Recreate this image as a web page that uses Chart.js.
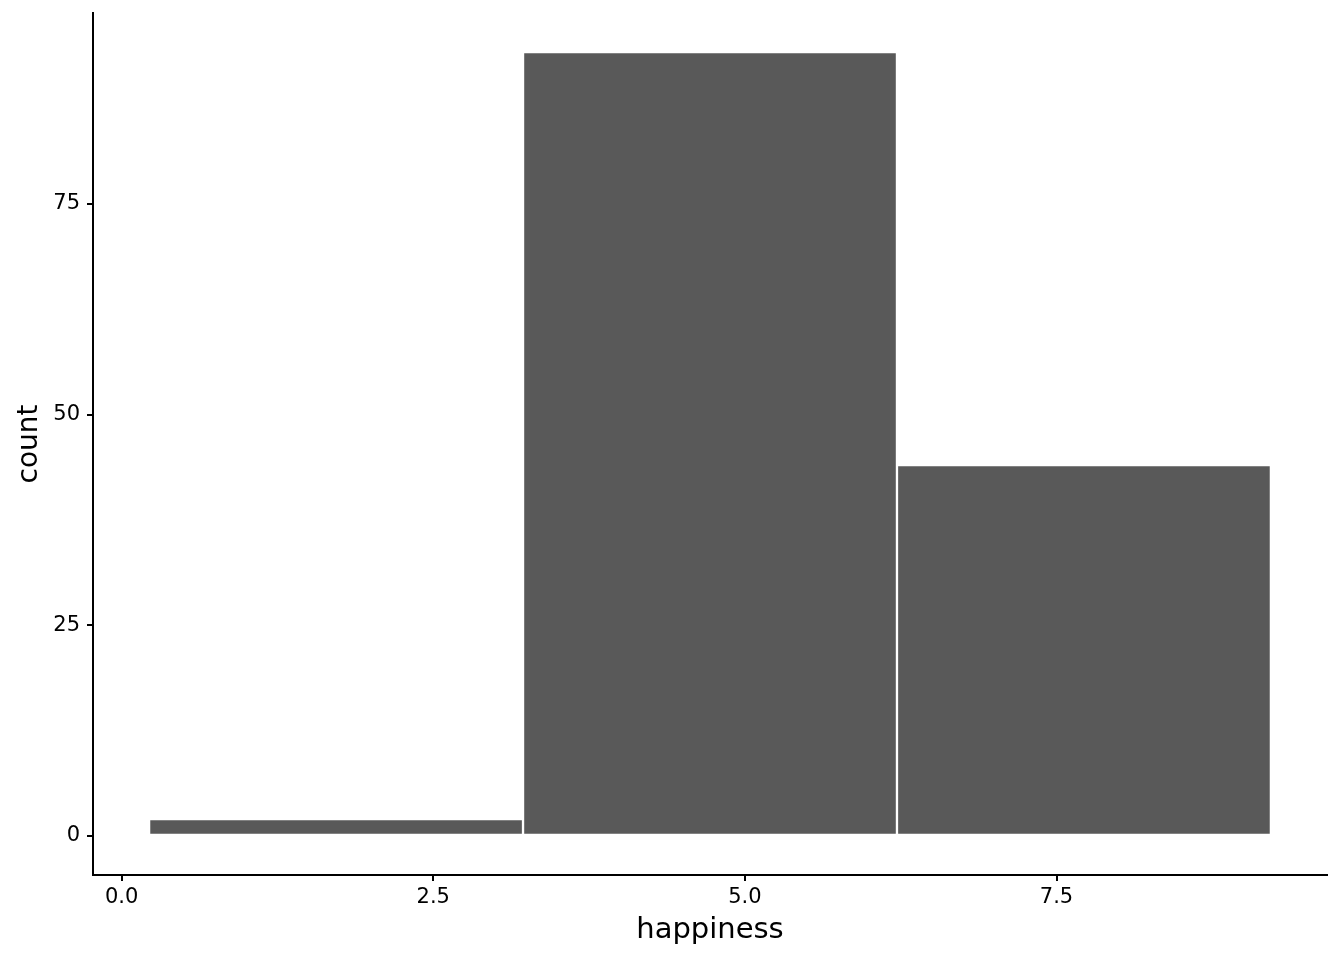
<!DOCTYPE html>
<html>
<head>
<meta charset="utf-8">
<script src="https://cdn.jsdelivr.net/npm/chart.js@4"></script>
<style>
	html, body { margin: 0; padding: 0; background: #fff; }
	#wrap { width: 1344px; height: 960px; }
</style>
</head>
<body>
<div id="wrap"><canvas id="canvas0" width="1344" height="960"></canvas></div>
<script>
// Histogram bins (centres) and counts
var binCenters = [1.72, 4.72, 7.72];
var counts = [2, 93, 44];
var xTicks = [0, 2.5, 5, 7.5];
var yTicks = [0, 25, 50, 75];
var xRange = [-0.23, 9.67];
var yRange = [-4.65, 97.65];

Chart.defaults.font.family = "'DejaVu Sans', sans-serif";
Chart.defaults.color = '#000';

var ctx = document.getElementById('canvas0').getContext('2d');
var chartJsOptions = {
	type: 'bar',
	data: {
		datasets: [{
			label: 'count',
			data: binCenters.map((x, i) => ({ x: x, y: counts[i] })),
			backgroundColor: '#595959',
			borderColor: '#ffffff',
			borderWidth: 1.5,
			borderSkipped: false,
			barThickness: 'flex',
			barPercentage: 1,
			categoryPercentage: 1
		}]
	},
	options: {
		responsive: false,
		animation: false,
		layout: {
			padding: { left: 0, right: 17, top: 13, bottom: 0 }
		},
		plugins: {
			legend: { display: false },
			tooltip: { enabled: false }
		},
		scales: {
			x: {
				type: 'linear',
				min: xRange[0],
				max: xRange[1],
				offset: false,
				afterBuildTicks: function(scale) {
					scale.ticks = xTicks.map(v => ({ value: v }));
				},
				afterFit: function(scale) {
					scale.height = 85;
				},
				ticks: {
					font: { size: 21 },
					padding: 4,
					maxRotation: 0,
					autoSkip: false,
					callback: function(v) { return Number(v).toFixed(1); }
				},
				grid: {
					display: true,
					offset: false,
					drawOnChartArea: false,
					drawTicks: true,
					tickLength: 6,
					color: '#000',
					lineWidth: 2
				},
				border: { display: true, color: '#000', width: 2 },
				title: {
					display: true,
					text: 'happiness',
					font: { size: 29 },
					padding: { top: 0, bottom: 12 }
				}
			},
			y: {
				type: 'linear',
				min: yRange[0],
				max: yRange[1],
				afterBuildTicks: function(scale) {
					scale.ticks = yTicks.map(v => ({ value: v }));
				},
				afterFit: function(scale) {
					scale.width = 93;
					// the top label sits well below the panel edge, no extra room needed
					scale.paddingTop = 0;
				},
				ticks: {
					font: { size: 21 },
					padding: 7,
					autoSkip: false
				},
				grid: {
					display: true,
					drawOnChartArea: false,
					drawTicks: true,
					tickLength: 6,
					color: '#000',
					lineWidth: 2
				},
				border: { display: true, color: '#000', width: 2 },
				title: {
					display: true,
					text: 'count',
					font: { size: 28 },
					padding: { top: 13, bottom: 0 }
				}
			}
		}
	}
};
var histogram = new Chart(ctx, chartJsOptions);
</script>
</body>
</html>
